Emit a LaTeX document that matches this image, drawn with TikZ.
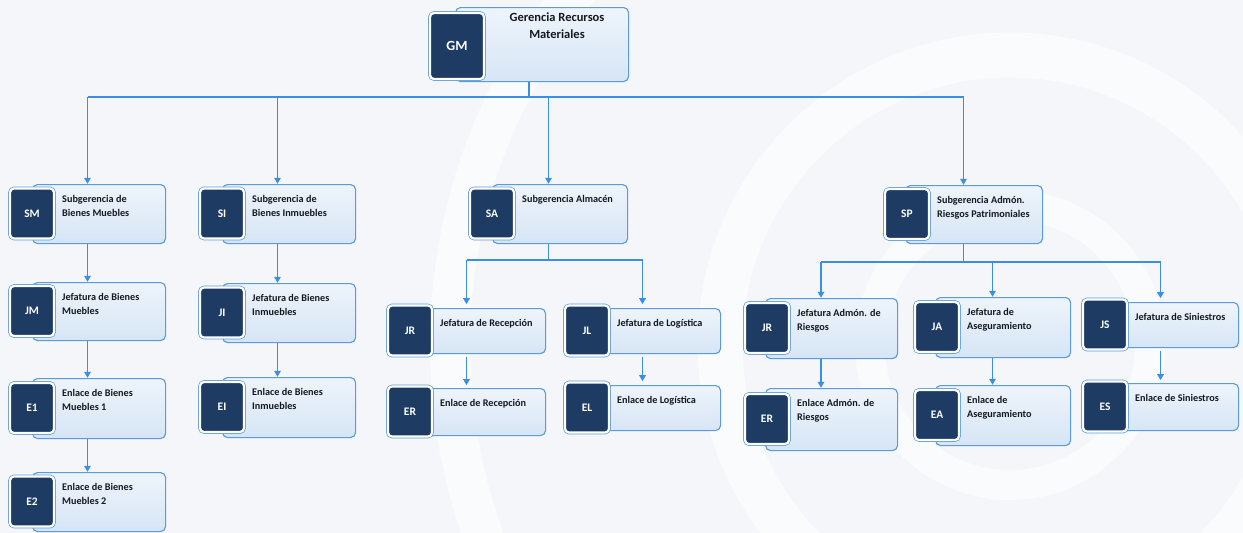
\documentclass[tikz,border=0pt]{standalone}
\usepackage{fontspec}
\setmainfont{Carlito}
\usetikzlibrary{arrows.meta,fit}
\definecolor{navy}{HTML}{1D3B63}
\definecolor{lnblue}{HTML}{3A8EE6}
\definecolor{bxborder}{HTML}{5B9BD9}
\definecolor{bxtop}{HTML}{EEF4FB}
\definecolor{bxbot}{HTML}{D6E5F5}
\definecolor{bgtint}{HTML}{F4F6FA}
\definecolor{txt}{HTML}{15191F}
\tikzset{
  unitbox/.style={draw=bxborder, line width=1.1pt, rounded corners=5pt, top color=bxtop, bottom color=bxbot, anchor=north west, inner sep=0pt},
  badge/.style={fill=navy, draw=white, line width=2.2pt, rounded corners=4pt, preaction={draw=bxborder, line width=3.6pt}, text=white, font=\bfseries\fontsize{11.5}{12}\selectfont, inner sep=0pt, minimum width=44pt, minimum height=50pt},
  lbl/.style={anchor=north west, inner sep=0pt, font=\bfseries\fontsize{10.2}{14}\selectfont, text=txt, align=left},
  conn/.style={draw=lnblue, line width=1.4pt, -{Triangle[length=6pt,width=6.5pt]}},
  plainline/.style={draw=lnblue, line width=1.4pt},
  ring/.style={draw=white, opacity=0.6},
}
% name, box x, box y, box w, box h, badge left x, badge label, text
\newcommand\orgunit[8]{%
  \node[unitbox, minimum width=#4pt, minimum height=#5pt] (#1box) at (#2,#3) {};
  \node[badge] (#1badge) at ({#6+22},{#3+#5/2}) {#7};
  \node[lbl] (#1txt) at ({#6+52},{#3+11}) {#8};
  \node[fit=(#1box)(#1badge), inner sep=0pt] (#1) {};
}
\begin{document}
\begin{tikzpicture}[x=1pt,y=-1pt]
\useasboundingbox (0,0) rectangle (1243,533);
% faint background watermark
\fill[bgtint] (0,0) rectangle (1243,533);
\draw[ring, line width=45pt] (1010,345) circle[radius=290pt];
\draw[ring, line width=30pt] (1010,345) circle[radius=140pt];
\draw[ring, line width=40pt] (1010,345) circle[radius=560pt];

% top unit
\node[unitbox, minimum width=173pt, minimum height=74pt] (GMbox) at (455,7) {};
\node[badge, minimum width=54pt, minimum height=66pt, font=\bfseries\fontsize{14}{15}\selectfont] (GMbadge) at (457,46) {GM};
\node[inner sep=0pt, anchor=north, align=center, font=\bfseries\fontsize{12.5}{17}\selectfont, text=txt] (GMtxt) at (557,13) {Gerencia Recursos\\Materiales};
\node[fit=(GMbox)(GMbadge), inner sep=0pt] (GM) {};

% level 2
\orgunit{SM}{32}{184}{133}{59}{10}{SM}{Subgerencia de\\Bienes Muebles}
\orgunit{SI}{222}{184}{133}{59}{200}{SI}{Subgerencia de\\Bienes Inmuebles}
\orgunit{SA}{492}{184}{135}{59}{470}{SA}{Subgerencia Almacén}
\orgunit{SP}{905}{185}{137}{58}{885}{SP}{Subgerencia Admón.\\Riesgos Patrimoniales}

% left columns
\orgunit{JM}{32}{282}{133}{58}{10}{JM}{Jefatura de Bienes\\Muebles}
\orgunit{EOne}{32}{378}{133}{60}{10}{E1}{Enlace de Bienes\\Muebles 1}
\orgunit{ETwo}{32}{472}{133}{59}{10}{E2}{Enlace de Bienes\\Muebles 2}
\orgunit{JI}{222}{283}{133}{59}{200}{JI}{Jefatura de Bienes\\Inmuebles}
\orgunit{EI}{222}{377}{133}{60}{200}{EI}{Enlace de Bienes\\Inmuebles}

% almacen
\orgunit{JRr}{388}{308}{157}{45}{388}{JR}{Jefatura de Recepción}
\orgunit{ERr}{388}{388}{157}{47}{388}{ER}{Enlace de Recepción}
\orgunit{JL}{565}{308}{155}{45}{565}{JL}{Jefatura de Logística}
\orgunit{EL}{565}{385}{155}{45}{565}{EL}{Enlace de Logística}

% riesgos
\orgunit{JRa}{765}{298}{132}{60}{745}{JR}{Jefatura Admón. de\\Riesgos}
\orgunit{ERa}{765}{388}{132}{62}{745}{ER}{Enlace Admón. de\\Riesgos}
\orgunit{JA}{935}{297}{135}{60}{915}{JA}{Jefatura de\\Aseguramiento}
\orgunit{EA}{935}{385}{135}{60}{915}{EA}{Enlace de\\Aseguramiento}
\orgunit{JS}{1083}{302}{155}{45}{1083}{JS}{Jefatura de Siniestros}
\orgunit{ES}{1083}{383}{155}{47}{1083}{ES}{Enlace de Siniestros}

% connectors
\coordinate (busA) at (0,97);
\coordinate (busB) at (0,260);
\coordinate (busC) at (0,262);
\draw[plainline] (GM.south) -- (GM.south |- busA);
\draw[plainline] (SM.north |- busA) -- (SP.north |- busA);
\foreach \n in {SM,SI,SA,SP} \draw[conn] (\n.north |- busA) -- (\n.north);

\draw[plainline] (SA.south) -- (SA.south |- busB);
\draw[plainline] (JRr.north |- busB) -- (JL.north |- busB);
\foreach \n in {JRr,JL} \draw[conn] (\n.north |- busB) -- (\n.north);

\draw[plainline] (SP.south) -- (SP.south |- busC);
\draw[plainline] (JRa.north |- busC) -- (JS.north |- busC);
\foreach \n in {JRa,JA,JS} \draw[conn] (\n.north |- busC) -- (\n.north);

\draw[conn] (SM) -- (JM);
\draw[conn] (JM) -- (EOne);
\draw[conn] (EOne) -- (ETwo);
\draw[conn] (SI) -- (JI);
\draw[conn] (JI) -- (EI);
\draw[conn] (JRr) -- (ERr);
\draw[conn] (JL) -- (EL);
\draw[conn] (JRa) -- (ERa);
\draw[conn] (JA) -- (EA);
\draw[conn] (JS) -- (ES);
\end{tikzpicture}
\end{document}
